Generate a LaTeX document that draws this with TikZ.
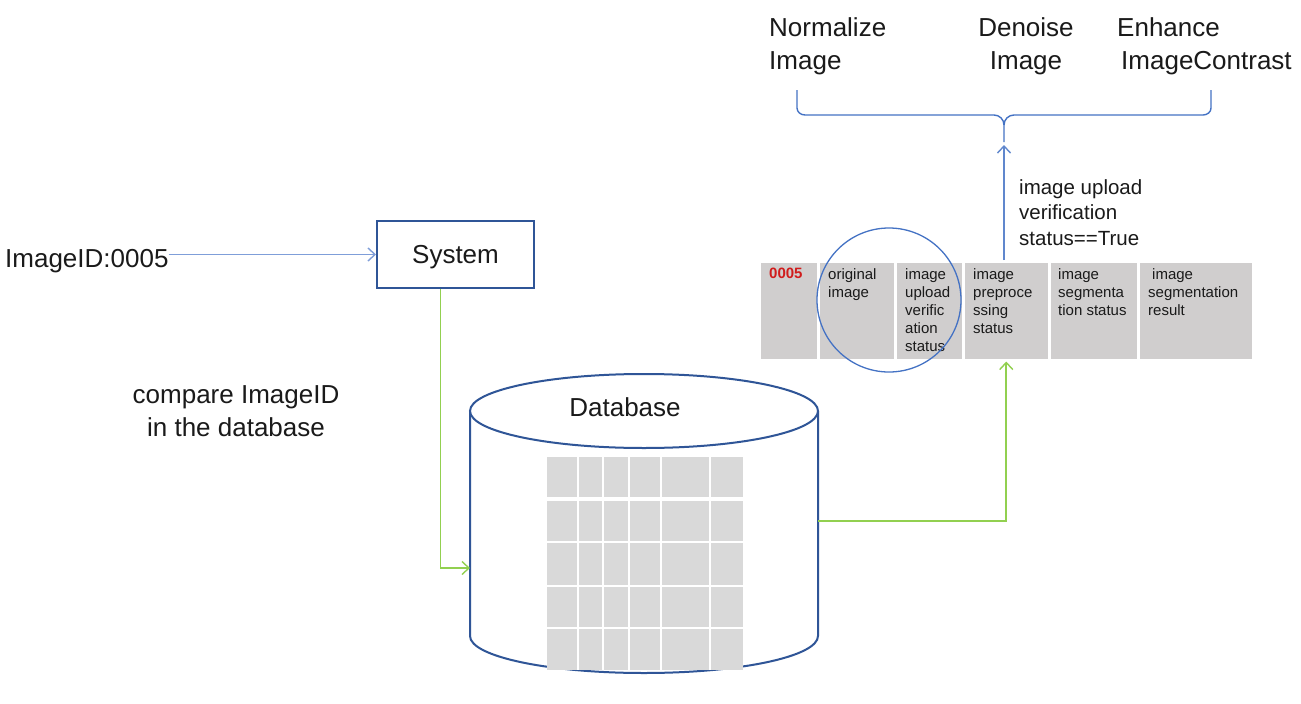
\documentclass[tikz,border=0pt]{standalone}
\usepackage{fontspec}
\setmainfont{Liberation Sans}
\usetikzlibrary{arrows.meta}
\definecolor{boxblue}{HTML}{2F5597}
\definecolor{lineblue}{HTML}{4472C4}
\definecolor{arrblue}{HTML}{7F9ED9}
\definecolor{grn}{HTML}{92D050}
\definecolor{cellgray}{HTML}{D0CECE}
\definecolor{gridgray}{HTML}{D9D9D9}
\definecolor{redtxt}{HTML}{D01C1C}
\definecolor{txt}{HTML}{1A1A1A}
\tikzset{
  big/.style={font=\fontsize{26}{33}\selectfont, text=txt, inner sep=0pt},
  mid/.style={font=\fontsize{20.5}{25.5}\selectfont, text=txt, inner sep=0pt, align=left},
  small/.style={font=\fontsize{15}{18}\selectfont, text=txt, inner sep=0pt, align=left, anchor=north west},
  cell/.style={draw=white, line width=2.5pt, fill=cellgray, inner sep=0pt, anchor=north west},
  tip/.style={-{Straight Barb[length=7pt,width=13pt,line width=1.4pt]}},
  greenline/.style={draw=grn, line width=1.6pt, tip},
  blueline/.style={draw=arrblue, line width=1.4pt, tip},
}
\begin{document}
\begin{tikzpicture}[x=1pt,y=-1pt]
\useasboundingbox[fill=white] (0,0) rectangle (1301,704);

% ---- left part
\node[big, anchor=base west] (imgid) at (5,267) {ImageID:0005};
\node[big, draw=boxblue, line width=2pt, minimum width=157pt, minimum height=67pt, text depth=0pt] (sys) at (455.5,254.5) {System};
\draw[blueline] (imgid.east |- sys.west) -- (sys.west);
\node[big, align=center, anchor=north] (cmp) at (236,385) {compare ImageID\\in the database};

% ---- database cylinder
\coordinate (dbL) at (470,568);
\coordinate (dbR) at (818,521);
\draw[boxblue, line width=2pt] (470,411) -- (470,636) arc[start angle=180, end angle=360, x radius=174, y radius=-37] -- (818,411);
\draw[boxblue, line width=2pt, fill=white] (644,411) ellipse[x radius=174, y radius=37];
\node[big, anchor=base] (dbtxt) at (625,416) {Database};
% grid
\fill[gridgray] (547,457) rectangle (743,497);
\fill[gridgray] (547,501) rectangle (743,670);
\foreach \x in {578,603,629,661,710} \draw[white, line width=2pt] (\x,457) -- (\x,670);
\foreach \y in {542,586,628} \draw[white, line width=2pt] (547,\y) -- (743,\y);

\draw[greenline] ([xshift=-15pt]sys.south) |- (dbL);

% ---- table
\node[cell, minimum width=59pt, minimum height=99pt] (t1) at (758,260) {};
\node[cell, minimum width=77pt, minimum height=99pt] (t2) at (817,260) {};
\node[cell, minimum width=68pt, minimum height=99pt] (t3) at (894,260) {};
\node[cell, minimum width=86pt, minimum height=99pt] (t4) at (962,260) {};
\node[cell, minimum width=89pt, minimum height=99pt] (t5) at (1048,260) {};
\node[cell, minimum width=115pt, minimum height=99pt] (t6) at (1137,260) {};
\node[small, font=\fontsize{15}{18}\selectfont\bfseries, text=redtxt] (c1) at (769,268) {0005};
\node[small] (c2) at (828,268) {original\\image};
\node[small] (c3) at (905,268) {image\\upload\\verific\\ation\\status};
\node[small] (c4) at (973,268) {image\\preproce\\ssing\\status};
\node[small] (c5) at (1058,268) {image\\segmenta\\tion status};
\node[small] (c6) at (1148,268) {\hspace{4pt}image\\segmentation\\result};
\node[draw=lineblue, line width=1.3pt, circle, minimum size=144pt, inner sep=0pt] (circ) at (889,300) {};

\draw[greenline] (dbR) -| (t4.south);

% ---- upper right
\coordinate (btip) at (1004,145);
\draw[lineblue, line width=1.4pt] (797,90) -- (797,108) to[out=-90,in=180] (805,115) -- (994,115) to[out=0,in=90] (1004,125) -- (1004,142);
\draw[lineblue, line width=1.4pt] (1004,125) to[out=90,in=180] (1014,115) -- (1203,115) to[out=0,in=-90] (1211,108) -- (1211,90);
\draw[blueline, draw=lineblue!85] (t4.north -| btip) -- (btip);
\node[mid, anchor=north west] (cond) at (1019,179) {image upload\\verification\\status==True};

\node[big, align=left, anchor=north west] (norm) at (769,17) {Normalize\\Image};
\node[big, align=center, anchor=north] (den) at (1026,17) {Denoise\\Image};
\node[big, align=left, anchor=north west] (enh) at (1117,17) {Enhance\\\hspace{4pt}ImageContrast};
\end{tikzpicture}
\end{document}
